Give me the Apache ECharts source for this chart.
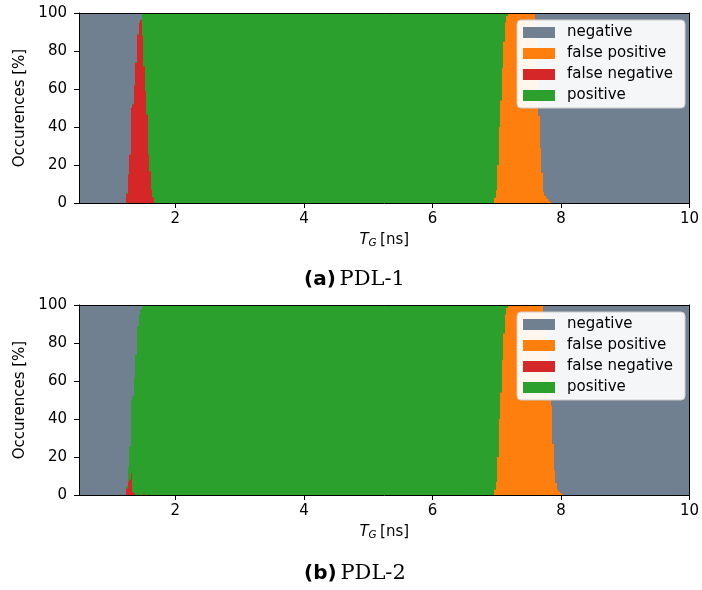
<!DOCTYPE html>
<html>
<head>
<meta charset="utf-8">
<script src="https://cdn.jsdelivr.net/npm/echarts@6.0.0/dist/echarts.min.js"></script>
<style>
html,body{margin:0;padding:0;background:#fff;}
#chart{width:702px;height:590px;}
</style>
</head>
<body>
<div id="chart"></div>
<script>
// ---------- DATA ----------
// Legend / category names
const categories = ['negative', 'false positive', 'false negative', 'positive'];
const xTicks = [2, 4, 6, 8, 10];
const yTicks = [0, 20, 40, 60, 80, 100];

// (a) PDL-1 : T_G bin starts [ns] and percentages per class (bin value holds until next T_G)
const tgA  = [0.5, 1.236, 1.26, 1.284, 1.3075, 1.331, 1.355, 1.379, 1.4025, 1.426, 1.45, 1.474, 1.4975, 1.521, 1.545, 1.569, 1.5925, 1.616, 1.64, 1.664,
              6.96, 6.984, 7.0075, 7.031, 7.055, 7.079, 7.1025, 7.126, 7.15, 7.174,
              7.601, 7.625, 7.649, 7.6725, 7.696, 7.72, 7.744, 7.7675, 7.791, 7.815, 7.839, 10];
const fpA  = [0, 0, 0, 0, 0, 0, 0, 0, 0, 0, 0, 0, 0, 0, 0, 0, 0, 0, 0, 0,
              2.8, 6.9, 20, 40, 54, 71, 85, 95, 98.4, 100,
              93, 70, 46, 29, 16, 6, 4, 2.5, 1.5, 0.8, 0, 0];
const fnA  = [0, 4.9, 14.9, 25.4, 50, 51.8, 61.9, 73.7, 88.6, 94.7, 96.5, 88, 72, 58.8, 46.5, 25.4, 16.7, 7, 3, 0,
              0, 0, 0, 0, 0, 0, 0, 0, 0, 0,
              0, 0, 0, 0, 0, 0, 0, 0, 0, 0, 0, 0];
const posA = [0, 0.6, 0.6, 0, 0, 0.6, 0, 0.6, 0.6, 0.6, 0, 12, 28, 41.2, 53.5, 74.6, 83.3, 93, 97, 100,
              97.2, 93.1, 80, 60, 46, 29, 15, 5, 1.6, 0,
              0, 0, 0, 0, 0, 0, 0, 0, 0, 0, 0, 0];
const negA = [100, 94.5, 84.5, 74.6, 50, 47.6, 38.1, 25.7, 10.8, 4.7, 3.5, 0, 0, 0, 0, 0, 0, 0, 0, 0,
              0, 0, 0, 0, 0, 0, 0, 0, 0, 0,
              7, 30, 54, 71, 84, 94, 96, 97.5, 98.5, 99.2, 100, 100];

// (b) PDL-2
const tgB  = [0.5, 1.236, 1.26, 1.284, 1.3075, 1.331, 1.355, 1.379, 1.4025, 1.426, 1.45, 1.474, 1.4975, 1.521,
              6.96, 6.984, 7.0075, 7.031, 7.055, 7.079, 7.1025, 7.126, 7.15, 7.174,
              7.72, 7.744, 7.7675, 7.791, 7.815, 7.839, 7.8625, 7.886, 7.91, 7.934, 7.9575, 7.981, 8.005, 8.029, 10];
const fpB  = [0, 0, 0, 0, 0, 0, 0, 0, 0, 0, 0, 0, 0, 0,
              2.8, 6.9, 20, 40, 54, 71, 85, 95, 98.4, 100,
              96, 90, 82, 72, 60, 47, 27, 13, 6.5, 3, 2, 1, 0.5, 0, 0];
const fnB  = [0, 3.4, 6.9, 8, 11.5, 1.5, 0.8, 0, 0, 0, 0, 0, 0.5, 0,
              0, 0, 0, 0, 0, 0, 0, 0, 0, 0,
              0, 0, 0, 0, 0, 0, 0, 0, 0, 0, 0, 0, 0, 0, 0];
const posB = [0, 1.4, 7.9, 17.4, 38.5, 50.3, 61.2, 73.8, 88.8, 95, 97.6, 100, 99.5, 100,
              97.2, 93.1, 80, 60, 46, 29, 15, 5, 1.6, 0,
              0, 0, 0, 0, 0, 0, 0, 0, 0, 0, 0, 0, 0, 0, 0];
const negB = [100, 95.2, 85.2, 74.6, 50, 48.2, 38, 26.2, 11.2, 5, 2.4, 0, 0, 0,
              0, 0, 0, 0, 0, 0, 0, 0, 0, 0,
              4, 10, 18, 28, 40, 53, 73, 87, 93.5, 97, 98, 99, 99.5, 100, 100];

const captions = [['(a)', 'PDL-1'], ['(b)', 'PDL-2']];

// ---------- STYLE ----------
const COLORS = {
  'negative': '#708090',
  'false positive': '#ff7f0e',
  'false negative': '#d62728',
  'positive': '#2ca02c'
};
const FONT = 'DejaVu Sans';
const grids = [
  {left: 79, right: 11, top: 13, height: 190},
  {left: 79, right: 11, top: 305, height: 190}
];

// Column (bin) renderer: a rect from 0 up to the cumulative top of the class.
function renderBin(params, api) {
  const top = api.value(2);
  if (!(top > 0)) return null;
  const p0 = api.coord([api.value(0), 0]);
  const p1 = api.coord([api.value(1), top]);
  const x0 = Math.round(p0[0]);
  const x1 = Math.round(p1[0]);
  if (x1 <= x0) return null;
  return {
    type: 'rect',
    shape: {x: x0, y: p1[1], width: x1 - x0, height: p0[1] - p1[1]},
    style: {fill: api.visual('color')}
  };
}

// Stacked columns: bottom-to-top order is fp, fn, pos, neg.
// Each class is drawn from 0 up to its cumulative top; upper classes are drawn first,
// lower classes are drawn over them.
function buildSeries(gi, tg, fp, fn, pos, neg) {
  const order = [['false positive', fp], ['false negative', fn], ['positive', pos], ['negative', neg]];
  const cum = [];
  let run = tg.map(() => 0);
  order.forEach(([name, vals]) => {
    run = run.map((r, i) => r + vals[i]);
    cum.push([name, run.slice()]);
  });
  return cum.reverse().map(([name, tops], k) => ({
    name: name,
    type: 'custom',
    xAxisIndex: gi * 2,
    yAxisIndex: gi * 2,
    z: 2 + k,
    clip: true,
    itemStyle: {color: COLORS[name]},
    renderItem: renderBin,
    encode: {x: [0, 1], y: 2},
    data: tg.slice(0, -1).map((x, i) => [x, tg[i + 1], Math.min(100, tops[i])]),
    animation: false,
    silent: true
  }));
}

const xAxes = [], yAxes = [];
[0, 1].forEach(gi => {
  xAxes.push({
    gridIndex: gi, type: 'value', min: 0.5, max: 10, z: 10,
    axisLine: {show: true, onZero: false, lineStyle: {color: '#000', width: 1}},
    axisTick: {show: true, customValues: xTicks, length: 5, lineStyle: {color: '#000', width: 1}},
    axisLabel: {customValues: xTicks, color: '#000', fontSize: 15, fontFamily: FONT, margin: 9},
    splitLine: {show: false},
    name: '{i|T}{s|G} {n|[ns]}',
    nameLocation: 'middle', nameGap: 29,
    nameTextStyle: {
      color: '#000',
      rich: {
        i: {fontFamily: FONT, fontStyle: 'italic', fontSize: 15, color: '#000'},
        s: {fontFamily: FONT, fontStyle: 'italic', fontSize: 10.5, color: '#000', verticalAlign: 'bottom', padding: [6, 0, 0, 0]},
        n: {fontFamily: FONT, fontSize: 15, color: '#000'}
      }
    }
  });
  xAxes.push({
    gridIndex: gi, type: 'value', min: 0.5, max: 10, position: 'top', z: 10,
    axisLine: {show: true, onZero: false, lineStyle: {color: '#000', width: 1}},
    axisTick: {show: false}, axisLabel: {show: false}, splitLine: {show: false}
  });
  yAxes.push({
    gridIndex: gi, type: 'value', min: 0, max: 100, interval: 20, z: 10,
    axisLine: {show: true, onZero: false, lineStyle: {color: '#000', width: 1}},
    axisTick: {show: true, length: 5, lineStyle: {color: '#000', width: 1}},
    axisLabel: {color: '#000', fontSize: 15, fontFamily: FONT, margin: 12},
    splitLine: {show: false},
    name: 'Occurences [%]', nameLocation: 'middle', nameGap: 43,
    nameTextStyle: {color: '#000', fontSize: 15, fontFamily: FONT}
  });
  yAxes.push({
    gridIndex: gi, type: 'value', min: 0, max: 100, position: 'right', z: 10,
    axisLine: {show: true, onZero: false, lineStyle: {color: '#000', width: 1}},
    axisTick: {show: false}, axisLabel: {show: false}, splitLine: {show: false}
  });
});

const legendBase = {
  orient: 'vertical',
  left: 517,
  data: categories.map(n => ({name: n, icon: 'rect', itemStyle: {color: COLORS[n]}})),
  itemWidth: 32, itemHeight: 11, itemGap: 6,
  padding: [5, 12, 5, 6],
  backgroundColor: 'rgba(255,255,255,0.93)',
  borderColor: '#cccccc', borderWidth: 1, borderRadius: 4,
  textStyle: {fontFamily: FONT, fontSize: 15, color: '#000', padding: [0, 0, 0, 7]},
  selectedMode: false,
  z: 20
};

const option = {
  animation: false,
  backgroundColor: '#fff',
  grid: grids,
  xAxis: xAxes,
  yAxis: yAxes,
  legend: [
    Object.assign({}, legendBase, {top: 20}),
    Object.assign({}, legendBase, {top: 312})
  ],
  title: captions.map((c, i) => ({
    text: '{b|' + c[0] + '}{g| }{r|' + c[1] + '}',
    left: 299,
    top: i === 0 ? 264 : 558,
    textStyle: {
      fontWeight: 'normal',
      rich: {
        b: {fontFamily: FONT, fontWeight: 'bold', fontSize: 20, color: '#000'},
        g: {fontFamily: FONT, fontWeight: 'normal', fontSize: 12, color: '#000'},
        r: {fontFamily: 'DejaVu Serif', fontWeight: 'normal', fontSize: 21, color: '#000'}
      }
    }
  })),
  series: [].concat(
    buildSeries(0, tgA, fpA, fnA, posA, negA),
    buildSeries(1, tgB, fpB, fnB, posB, negB)
  )
};

const chart = echarts.init(document.getElementById('chart'), null, {renderer: 'canvas'});
chart.setOption(option);
</script>
</body>
</html>
